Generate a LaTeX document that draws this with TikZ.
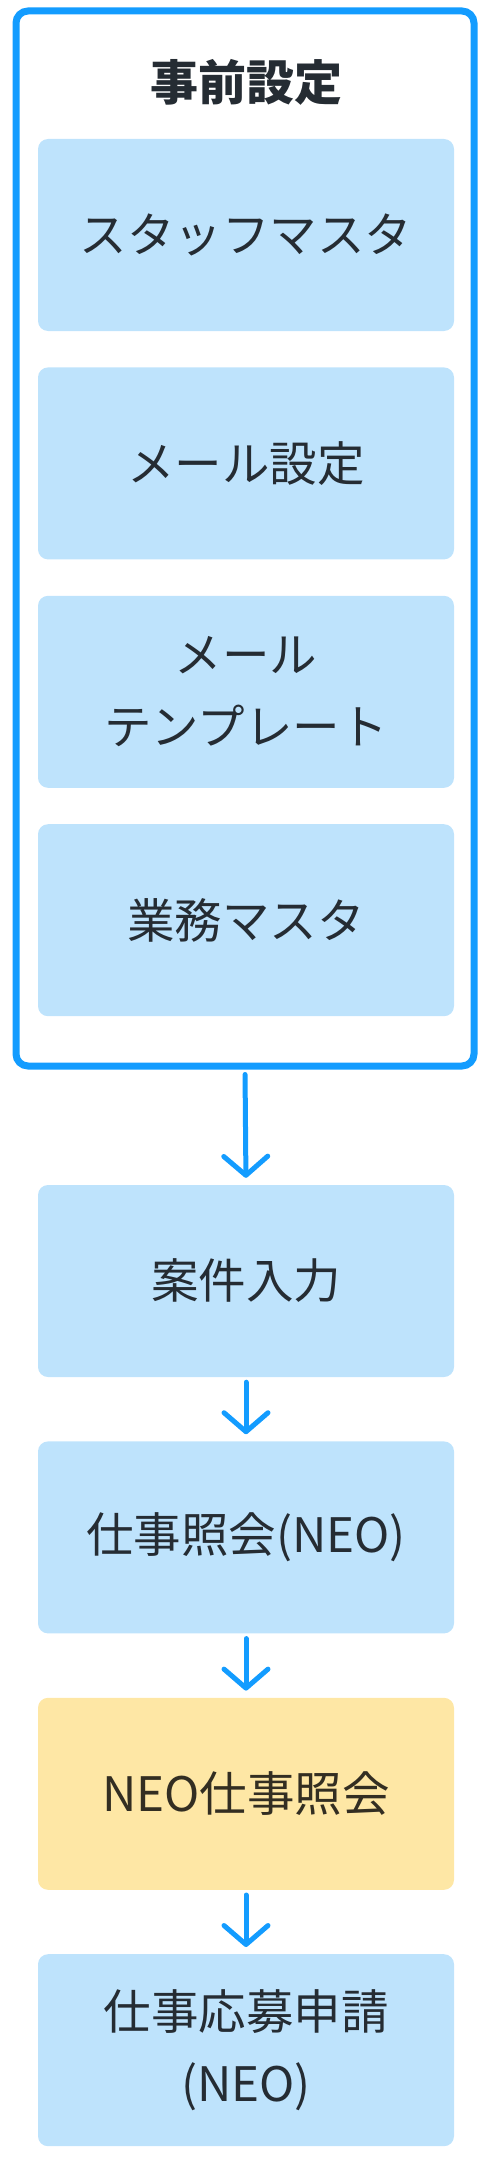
\documentclass[tikz,border=0pt]{standalone}
\usepackage{fontspec}
\setmainfont{Noto Sans CJK JP}
\usetikzlibrary{arrows.meta,positioning}
\definecolor{flowblue}{HTML}{139CFF}
\definecolor{boxblue}{HTML}{BEE3FC}
\definecolor{boxyellow}{HTML}{FEE7A5}
\definecolor{ink}{HTML}{252C33}
\definecolor{inkyellow}{HTML}{332E22}
\tikzset{
    task/.style={rectangle, rounded corners=10pt, fill=boxblue, text=ink,
                 minimum width=416pt, minimum height=192pt, align=center},
    neotask/.style={task, fill=boxyellow, text=inkyellow},
    frame/.style={rectangle, rounded corners=12pt, draw=flowblue, line width=7pt,
                  minimum width=458pt, minimum height=1055pt},
    flow/.style={draw=flowblue, line width=5pt, line cap=round,
                 -{Straight Barb[length=19pt,width=44pt,round]},
                 shorten <=5pt, shorten >=7pt}
}

\begin{document}
\begin{tikzpicture}
  [
    x                       = 1pt,
    y                       = -1pt,
    node distance           = 36pt,
    every node/.style       = {font=\fontsize{47.5}{72}\selectfont},
  ]
  \useasboundingbox (0,0) rectangle (487,2159);
  % setup group
  \node [frame] (setup) at (245,538.5) {};
  \node [font=\bfseries\fontsize{48}{72}\selectfont, text=ink] (title) at (246,82) {事前設定};
  \node [task] (staff) at (246,235) {スタッフマスタ};
  \node [task, below=of staff] (mail) {メール設定};
  \node [task, below=of mail] (tmpl) {メール\\テンプレート};
  \node [task, below=of tmpl] (work) {業務マスタ};
  % main flow
  \node [task] (case) at (246,1281) {案件入力};
  \node [task, below=64pt of case] (query) {仕事照会(NEO)};
  \node [neotask, below=64pt of query] (neoquery) {NEO仕事照会};
  \node [task, below=64pt of neoquery] (apply) {仕事応募申請\\(NEO)};
  \draw [flow] (setup.south) -- (case.north);
  \draw [flow] (case) -- (query);
  \draw [flow] (query) -- (neoquery);
  \draw [flow] (neoquery) -- (apply);
\end{tikzpicture}
\end{document}
